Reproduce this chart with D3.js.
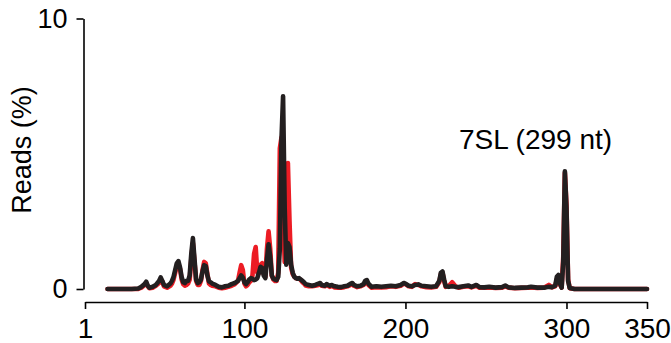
<!DOCTYPE html>
<html>
<head>
<meta charset="utf-8">
<script src="https://cdn.jsdelivr.net/npm/d3@7"></script>
<style>
  html, body { margin: 0; padding: 0; background: #fff; }
  svg { display: block; }
  text { font-family: "Liberation Sans", Arial, Helvetica, sans-serif; fill: #000; }
</style>
</head>
<body>
<svg id="chart" width="671" height="343"></svg>
<script>
// ---- data ----
const positions = [15,20,25,30,34,36,38,39,40,41,43,45,47,48,49,50,52,54,55,56,57,58,59,60,61,62,63,64,65,66,67,68,69,70,71,72,73,74,75,76,77,78,79,80,82,84,86,88,90,92,94,96,97,98,99,100,101,102,103,104,105,106,107,108,109,110,111,112,113,114,115,116,117,118,119,120,121,122,123,124,125,126,127,128,129,130,131,132,133,134,135,136,137,138,140,142,144,146,147,148,150,151,153,154,156,158,160,162,164,166,167,168,170,172,174,175,176,177,179,182,185,188,191,194,197,199,200,202,204,206,208,210,213,216,219,221,222,223,224,225,227,229,231,233,236,239,241,244,246,249,252,256,260,262,264,268,272,276,278,282,286,289,291,293,294,295,296,297,298,299,300,301,302,305,310,320,330,340,350];
const blackReads = [0,0,0,0,0.02,0.08,0.18,0.27,0.12,0.05,0.08,0.15,0.3,0.43,0.3,0.15,0.1,0.2,0.3,0.45,0.7,0.95,1.03,0.8,0.45,0.25,0.22,0.3,0.3,0.5,1.3,1.88,1.1,0.35,0.22,0.25,0.35,0.65,0.88,0.85,0.5,0.28,0.25,0.2,0.15,0.08,0.06,0.1,0.12,0.18,0.22,0.3,0.4,0.5,0.42,0.25,0.18,0.25,0.35,0.4,0.38,0.33,0.35,0.4,0.6,0.82,0.78,0.5,0.4,1.1,1.65,1.2,0.5,0.38,0.35,0.33,0.45,1.5,5.5,7.12,3.0,0.9,1.7,1.55,0.9,0.6,0.45,0.4,0.38,0.4,0.35,0.3,0.25,0.18,0.15,0.12,0.15,0.2,0.22,0.15,0.12,0.18,0.12,0.15,0.1,0.08,0.07,0.1,0.12,0.2,0.22,0.15,0.1,0.12,0.18,0.3,0.33,0.2,0.08,0.1,0.08,0.1,0.12,0.1,0.15,0.22,0.2,0.12,0.1,0.15,0.17,0.12,0.1,0.08,0.1,0.3,0.6,0.65,0.35,0.1,0.08,0.1,0.08,0.07,0.1,0.13,0.08,0.15,0.07,0.06,0.08,0.05,0.07,0.13,0.06,0.04,0.05,0.06,0.08,0.05,0.05,0.08,0.07,0.12,0.45,0.52,0.2,0.05,1.0,4.35,3.0,0.3,0.04,0,0,0,0,0,0];
const redReads = [0,0,0,0,0,0.05,0.15,0.22,0.1,0.03,0.05,0.12,0.22,0.35,0.28,0.1,0.05,0.12,0.2,0.35,0.6,0.85,0.92,0.75,0.35,0.18,0.12,0.15,0.2,0.35,1.1,1.7,1.0,0.3,0.15,0.15,0.3,0.7,1.0,0.95,0.55,0.2,0.15,0.12,0.1,0.05,0.03,0.05,0.08,0.12,0.18,0.3,0.6,0.88,0.7,0.2,0.1,0.15,0.25,0.3,0.5,1.3,1.55,0.6,0.6,0.9,0.95,0.55,0.45,1.5,2.13,1.5,0.5,0.35,0.3,0.3,0.6,5.2,5.6,3.0,1.0,2.5,4.66,2.5,0.8,0.55,0.45,0.4,0.38,0.38,0.33,0.25,0.2,0.13,0.1,0.1,0.12,0.15,0.2,0.12,0.1,0.15,0.08,0.12,0.06,0.05,0.05,0.07,0.1,0.15,0.2,0.12,0.07,0.1,0.15,0.22,0.25,0.15,0.05,0.07,0.06,0.07,0.1,0.08,0.12,0.2,0.18,0.1,0.08,0.18,0.15,0.1,0.07,0.06,0.08,0.25,0.55,0.6,0.3,0.08,0.12,0.25,0.1,0.05,0.08,0.1,0.06,0.12,0.05,0.05,0.06,0.04,0.05,0.1,0.05,0.03,0.04,0.05,0.06,0.04,0.05,0.15,0.06,0.1,0.35,0.45,0.15,0.05,1.2,4.3,3.1,0.35,0.03,0,0,0,0,0,0];
const xTicks = [1, 100, 200, 300, 350];
const yTicks = [0, 10];
const yLabel = "Reads (%)";
const peakLabel = "7SL (299 nt)";

// ---- chart ----
const svg = d3.select("#chart");
const x = d3.scaleLinear().domain([1, 350]).range([85, 647]);
const y = d3.scaleLinear().domain([0, 10]).range([289, 18.5]);

const yAxis = svg.append("g")
  .attr("transform", "translate(83.5,0)")
  .call(d3.axisLeft(y).tickValues(yTicks).tickFormat(d3.format("d")).tickSize(7).tickSizeOuter(0).tickPadding(9));
const xAxis = svg.append("g")
  .attr("transform", "translate(0,302)")
  .call(d3.axisBottom(x).tickValues(xTicks).tickFormat(d3.format("d")).tickSize(7).tickSizeOuter(0).tickPadding(9));
[yAxis, xAxis].forEach(g => {
  g.selectAll("path, line").attr("stroke", "#000").attr("stroke-width", 1.6);
  g.selectAll("text").attr("font-family", '"Liberation Sans", Arial, sans-serif').attr("fill", "#000");
});
yAxis.selectAll("text").attr("font-size", 27);
xAxis.selectAll("text").attr("font-size", 28);

svg.append("text")
  .attr("transform", "translate(31,150) rotate(-90)")
  .attr("text-anchor", "middle")
  .attr("font-size", 27)
  .text(yLabel);

const line = d3.line().x((d, i) => x(positions[i])).y(d => y(d));

svg.append("path")
  .datum(redReads)
  .attr("fill", "none")
  .attr("stroke", "#ec1c24")
  .attr("stroke-width", 4.6)
  .attr("stroke-linejoin", "round")
  .attr("stroke-linecap", "round")
  .attr("d", line);

svg.append("path")
  .datum(blackReads)
  .attr("fill", "none")
  .attr("stroke", "#231f20")
  .attr("stroke-width", 4.6)
  .attr("stroke-linejoin", "round")
  .attr("stroke-linecap", "round")
  .attr("d", line);

svg.append("text")
  .attr("x", 459)
  .attr("y", 149)
  .attr("font-size", 28)
  .text(peakLabel);
</script>
</body>
</html>
